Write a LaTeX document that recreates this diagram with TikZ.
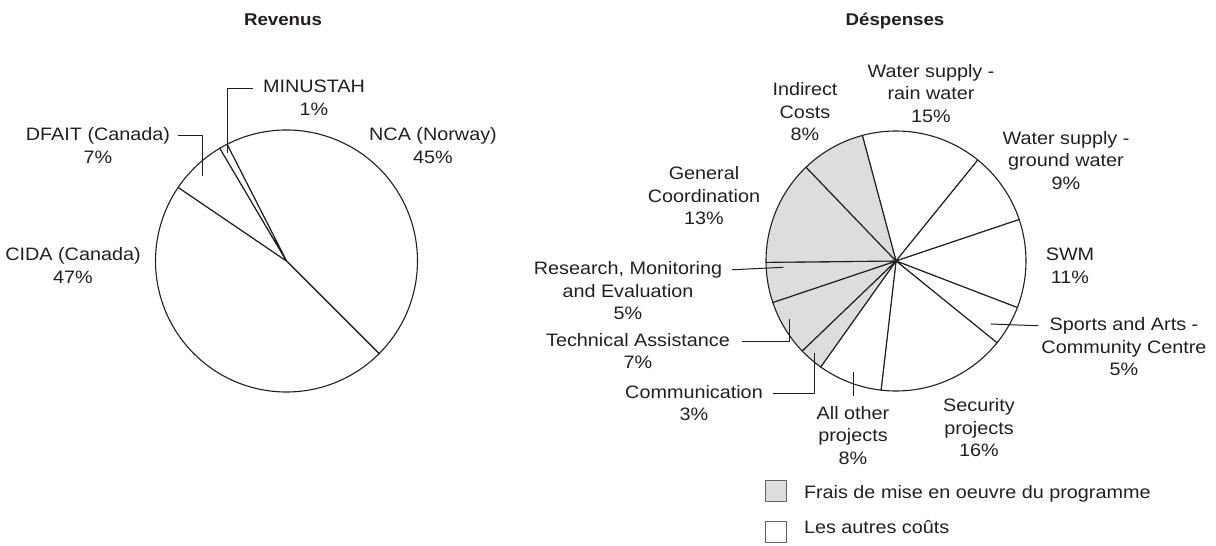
\documentclass[tikz,border=0pt]{standalone}
\usepackage{fontspec}
\setmainfont[FakeStretch=1.1]{Liberation Sans}
\definecolor{inkcolor}{RGB}{35,31,32}
\definecolor{progcolor}{RGB}{220,221,223}

\begin{document}
\begin{tikzpicture}[%
    x=1pt, y=-1pt,              % work on the pixel grid, y going down
    line join=round,
    ]
\tikzset{
  base/.style={inner sep=0pt, outer sep=0pt, text=inkcolor},
  lbl/.style={base, align=center, anchor=base, font=\fontsize{18}{22.5}\selectfont},
  ttl/.style={base, anchor=base, font=\fontsize{17}{20}\selectfont\bfseries},
  slice/.style={draw=inkcolor, line width=1.1pt},
  lead/.style={draw=inkcolor, line width=1pt},
  key/.style={draw=inkcolor!70, line width=0.8pt, minimum size=21pt, inner sep=0pt, anchor=north west},
}
\useasboundingbox (0,0) rectangle (1216,546);

% Revenus
\begin{scope}[shift={(286.5,261)}, y=1pt]
\foreach \from/\to in {0/45, 45/92, 92/99, 99/100}
  \filldraw [slice, fill=white] (0,0) -- ({117-3.6*\from}:131)
    arc [start angle={117-3.6*\from}, end angle={117-3.6*\to}, radius=131] -- cycle;
\end{scope}

% labels sit on the baseline of their last line
\node [ttl] (rt) at (283,25) {Revenus};
\node [lbl] (r0) at (314,115) {MINUSTAH\\1\%};
\node [lbl] (r1) at (433,163) {NCA (Norway)\\45\%};
\node [lbl] (r2) at (98,163) {DFAIT (Canada)\\7\%};
\node [lbl] (r3) at (73,283) {CIDA (Canada)\\47\%};

\coordinate (r0tip) at (227.7,153);
\coordinate (r2tip) at (202,175.7);
\draw [lead] ([shift={(-10,8.3)}]r0.north west) -| (r0tip);
\draw [lead] ([shift={(8,8.3)}]r2.north east) -| (r2tip);

% Despenses
\begin{scope}[shift={(896,261)}, y=1pt]
\foreach \from/\to/\col in {0/15/white, 15/24/white, 24/35/white, 35/40/white,
    40/56/white, 56/64/white, 64/67/progcolor, 67/74/progcolor,
    74/79/progcolor, 79/92/progcolor, 92/100/progcolor}
  \filldraw [slice, fill=\col] (0,0) -- ({105-3.6*\from}:130)
    arc [start angle={105-3.6*\from}, end angle={105-3.6*\to}, radius=130] -- cycle;
\end{scope}

\node [ttl] (dt) at (895,25) {Déspenses};
\node [lbl] (d0) at (931,122) {Water supply -\\rain water\\15\%};
\node [lbl] (d1) at (1066,189) {Water supply -\\ground water\\9\%};
\node [lbl] (d2) at (1070,283) {SWM\\11\%};
\node [lbl] (d3) at (1124,375.5) {Sports and Arts -\\Community Centre\\5\%};
\node [lbl] (d4) at (979,456.5) {Security\\projects\\16\%};
\node [lbl] (d5) at (853,464) {All other\\projects\\8\%};
\node [lbl] (d6) at (694,420.5) {Communication\\3\%};
\node [lbl] (d7) at (638,368.5) {Technical Assistance\\7\%};
\node [lbl] (d8) at (628,319.5) {Research, Monitoring\\and Evaluation\\5\%};
\node [lbl] (d9) at (704,224.5) {General\\Coordination\\13\%};
\node [lbl] (d10) at (805,140.5) {Indirect\\Costs\\8\%};

\coordinate (d3tip) at (990.7,324);
\coordinate (d5tip) at (854,371.7);
\coordinate (d6tip) at (814,353.3);
\coordinate (d7tip) at (789.3,319);
\coordinate (d8tip) at (783.3,267.3);
\draw [lead] ([shift={(-3,8.3)}]d3.north west) -- (d3tip);
\draw [lead] ([shift={(0,-10)}]d5.north) -- (d5.north |- d5tip);
\draw [lead] ([shift={(10,8.3)}]d6.north east) -| (d6tip);
\draw [lead] ([shift={(12,8.3)}]d7.north east) -| (d7tip);
\draw [lead] ([shift={(10,8.3)}]d8.north east) -- (d8tip);

% legend
\node [key, fill=progcolor] (k0) at (765,480) {};
\node [lbl, anchor=base west] (k0t) at (804,498) {Frais de mise en oeuvre du programme};
\node [key, fill=white] (k1) at (765,521) {};
\node [lbl, anchor=base west] (k1t) at (804,533.5) {Les autres coûts};

\end{tikzpicture}
\end{document}
